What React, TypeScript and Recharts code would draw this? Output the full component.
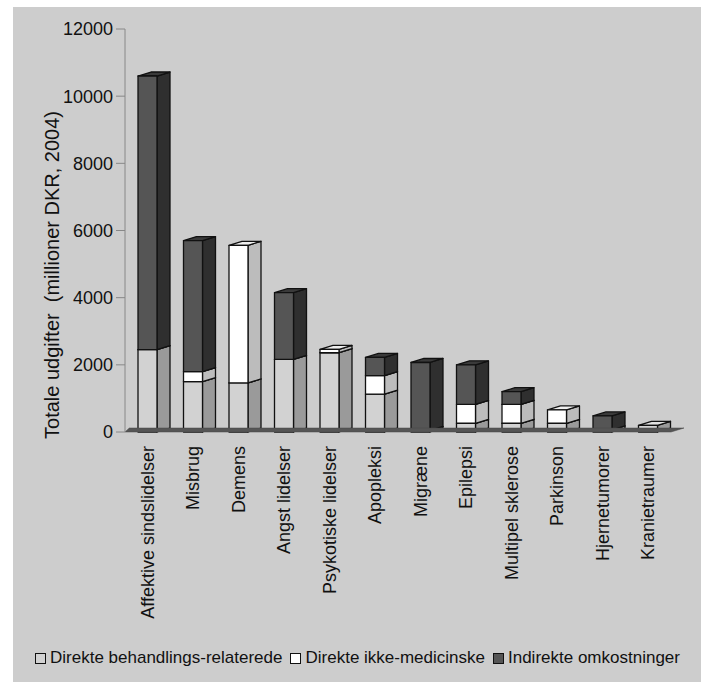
import React from 'react';
import { BarChart, Bar, XAxis, YAxis, ReferenceLine, Legend } from 'recharts';

const categories = [
  'Affektive sindslidelser',
  'Misbrug',
  'Demens',
  'Angst lidelser',
  'Psykotiske lidelser',
  'Apopleksi',
  'Migræne',
  'Epilepsi',
  'Multipel sklerose',
  'Parkinson',
  'Hjernetumorer',
  'Kranietraumer',
];

// millioner DKR, 2004
const behandling = [2450, 1500, 1460, 2160, 2360, 1130, 50, 260, 260, 260, 60, 200];
const ikkeMedicinske = [0, 300, 4100, 0, 100, 550, 0, 565, 565, 400, 0, 0];
const indirekte = [8150, 3900, 0, 1990, 0, 540, 2020, 1175, 375, 0, 420, 0];

const yTicks = [0, 2000, 4000, 6000, 8000, 10000, 12000];

const data = categories.map((name, i) => ({
  name,
  behandling: behandling[i],
  ikke: ikkeMedicinske[i],
  indirekte: indirekte[i],
}));

const DEPTH = 13;
const RISE = 4;
const FONT = '"Liberation Sans", Arial, Helvetica, sans-serif';

type Faces = { front: string; side: string; top: string };

const faces: Record<string, Faces> = {
  behandling: { front: '#d2d2d2', side: '#9a9a9a', top: '#e2e2e2' },
  ikke: { front: '#ffffff', side: '#bcbcbc', top: '#efefef' },
  indirekte: { front: '#555555', side: '#2f2f2f', top: '#3a3a3a' },
};

const legendItems = [
  { key: 'behandling', label: 'Direkte behandlings-relaterede' },
  { key: 'ikke', label: 'Direkte ikke-medicinske' },
  { key: 'indirekte', label: 'Indirekte omkostninger' },
];

// box with front, side and top faces
const boxShape = (f: Faces) => (props: any) => {
  const { x, y, width, height } = props;
  if (!height || height <= 0) return <g />;
  const b = y + height;
  const r = x + width;
  return (
    <g stroke="#111" strokeWidth={1.3} strokeLinejoin="round">
      <polygon
        points={`${r},${y} ${r + DEPTH},${y - RISE} ${r + DEPTH},${b - RISE} ${r},${b}`}
        fill={f.side}
      />
      <polygon
        points={`${x},${y} ${r},${y} ${r + DEPTH},${y - RISE} ${x + DEPTH},${y - RISE}`}
        fill={f.top}
      />
      <rect x={x} y={y} width={width} height={height} fill={f.front} />
    </g>
  );
};

// dark floor strip under the bars
const Floor = (props: any) => {
  const { x1, x2, y1 } = props;
  if (x1 == null) return <g />;
  return (
    <polygon
      points={`${x1},${y1} ${x2},${y1} ${x2 + DEPTH},${y1 - RISE} ${x1 + DEPTH / 3},${y1 - RISE}`}
      fill="#555"
      stroke="#444"
      strokeWidth={0.5}
    />
  );
};

const CategoryTick = (props: any) => {
  const { x, y, payload } = props;
  return (
    <text
      x={0}
      y={0}
      transform={`translate(${x + 6},${y}) rotate(-90)`}
      textAnchor="end"
      fontSize={18}
      fontFamily={FONT}
      fill="#111"
    >
      {payload.value}
    </text>
  );
};

const LegendContent = () => (
  <div
    style={{
      display: 'flex',
      alignItems: 'center',
      fontFamily: FONT,
      fontSize: 17,
      color: '#111',
      whiteSpace: 'nowrap',
    }}
  >
    {legendItems.map((item) => (
      <span
        key={item.key}
        style={{ display: 'flex', alignItems: 'center', marginRight: 8 }}
      >
        <span
          style={{
            display: 'inline-block',
            width: 9,
            height: 9,
            border: '1px solid #111',
            background: faces[item.key].front,
            marginRight: 4,
          }}
        />
        {item.label}
      </span>
    ))}
  </div>
);

export default function App() {
  return (
    <div
      style={{
        position: 'absolute',
        left: 0,
        top: 0,
        width: 705,
        height: 682,
        background: '#fff',
      }}
    >
      <div
        style={{
          position: 'absolute',
          left: 13,
          top: 7,
          width: 688,
          height: 675,
          background: '#cdcdcd',
        }}
      />
      <div
        style={{
          position: 'absolute',
          left: 52,
          top: 275,
          transform: 'translate(-50%, -50%) rotate(-90deg)',
          fontFamily: FONT,
          fontSize: 20,
          color: '#111',
          whiteSpace: 'pre',
        }}
      >
        {'Totale udgifter  (millioner DKR, 2004)'}
      </div>
      <div style={{ position: 'absolute', left: 0, top: 0 }}>
        <BarChart
          width={705}
          height={682}
          data={data}
          margin={{ top: 29, right: 34, left: 0, bottom: 200 }}
          barSize={19}
        >
          <XAxis
            dataKey="name"
            height={30}
            axisLine={false}
            tickLine={false}
            interval={0}
            tick={<CategoryTick />}
            tickMargin={8}
          />
          <YAxis
            width={125}
            domain={[0, 12000]}
            ticks={yTicks}
            axisLine={{ stroke: '#888', strokeWidth: 1 }}
            tickLine={{ stroke: '#888' }}
            tickSize={9}
            tickMargin={3}
            tick={{ fontSize: 18, fontFamily: FONT, fill: '#111' }}
          />
          <ReferenceLine y={0} shape={<Floor />} />
          <Bar
            dataKey="behandling"
            stackId="a"
            isAnimationActive={false}
            shape={boxShape(faces.behandling)}
          />
          <Bar
            dataKey="ikke"
            stackId="a"
            isAnimationActive={false}
            shape={boxShape(faces.ikke)}
          />
          <Bar
            dataKey="indirekte"
            stackId="a"
            isAnimationActive={false}
            shape={boxShape(faces.indirekte)}
          />
          <Legend
            content={<LegendContent />}
            wrapperStyle={{ position: 'absolute', left: 35, top: 648, width: 'auto' }}
          />
        </BarChart>
      </div>
    </div>
  );
}
